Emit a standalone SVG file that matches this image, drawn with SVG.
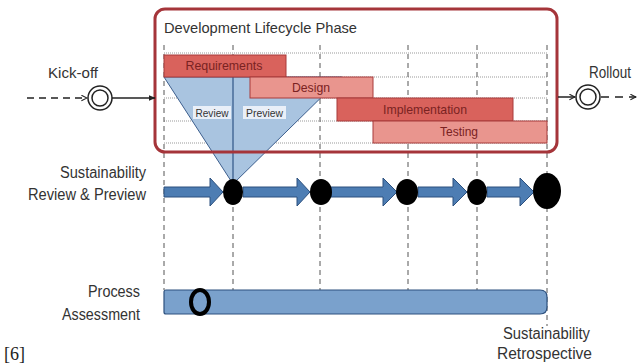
<svg xmlns="http://www.w3.org/2000/svg" width="639" height="364" viewBox="0 0 639 364">
<style>
.t{font-family:"Liberation Sans",Arial,sans-serif;fill:#333}
.bt{font-family:"Liberation Sans",Arial,sans-serif;fill:#7a2222;font-size:13px;text-anchor:middle}
.vd{stroke:#555;stroke-width:1;stroke-dasharray:5,4;fill:none}
.hd{stroke:#999;stroke-width:1;stroke-dasharray:1,1;fill:none}
.dark{fill:#d9625c;stroke:#a83a3a;stroke-width:1}
.light{fill:#e9958e;stroke:#a83a3a;stroke-width:1}
.arr{fill:#4d7db3;stroke:#2c507e;stroke-width:1}
.dot{fill:#000}
</style>
<defs>
<marker id="chev" viewBox="0 0 10 10" refX="9" refY="5" markerWidth="7" markerHeight="7" orient="auto" markerUnits="userSpaceOnUse">
<path d="M1,1 L9,5 L1,9" fill="none" stroke="#222" stroke-width="1.5"/>
</marker>
<marker id="tri" viewBox="0 0 10 10" refX="9" refY="5" markerWidth="7" markerHeight="7" orient="auto" markerUnits="userSpaceOnUse">
<path d="M0,1 L10,5 L0,9 z" fill="#222"/>
</marker>
</defs>
<rect width="639" height="364" fill="#fff"/>

<g id="phase-box">
<rect x="155" y="9" width="402" height="143" rx="10" fill="#fff"/>
<g id="grid-h">
<line class="hd" x1="164" y1="53" x2="547" y2="53"/>
<line class="hd" x1="164" y1="77" x2="547" y2="77"/>
<line class="hd" x1="164" y1="98" x2="547" y2="98"/>
<line class="hd" x1="164" y1="121" x2="547" y2="121"/>
<line class="hd" x1="164" y1="143" x2="547" y2="143"/>
</g>
</g>

<g id="grid-v">
<line class="vd" x1="164" y1="45" x2="164" y2="290"/>
<line class="vd" x1="233" y1="45" x2="233" y2="290"/>
<line class="vd" x1="320" y1="45" x2="320" y2="290"/>
<line class="vd" x1="408" y1="45" x2="408" y2="290"/>
<line class="vd" x1="477" y1="45" x2="477" y2="290"/>
<line class="vd" x1="547" y1="45" x2="547" y2="326"/>
</g>

<g id="review-funnel">
<polygon points="164,77 342,77 233,184" fill="#a9c4e0" stroke="#3d5f8e" stroke-width="1"/>
<line x1="233" y1="77" x2="233" y2="184" stroke="#2f5585" stroke-width="1.2"/>
<rect x="193" y="106" width="38" height="13" fill="#f4f7fb" opacity="0.85"/>
<rect x="243" y="106" width="43" height="13" fill="#f4f7fb" opacity="0.85"/>
<text class="t" x="212" y="117" font-size="11" text-anchor="middle" textLength="33" lengthAdjust="spacingAndGlyphs">Review</text>
<text class="t" x="264.5" y="117" font-size="11" text-anchor="middle" textLength="37" lengthAdjust="spacingAndGlyphs">Preview</text>
</g>

<g id="bar-requirements">
<rect class="dark" x="164" y="55" width="122" height="22"/>
<text class="bt" x="224" y="70" textLength="77" lengthAdjust="spacingAndGlyphs">Requirements</text>
</g>
<g id="bar-design">
<rect class="light" x="250" y="77" width="123" height="21"/>
<text class="bt" x="311" y="92" textLength="38" lengthAdjust="spacingAndGlyphs">Design</text>
</g>
<g id="bar-implementation">
<rect class="dark" x="337" y="98" width="176" height="23"/>
<text class="bt" x="425" y="114" textLength="84" lengthAdjust="spacingAndGlyphs">Implementation</text>
</g>
<g id="bar-testing">
<rect class="light" x="373" y="121" width="174" height="22"/>
<text class="bt" x="459" y="136" textLength="38" lengthAdjust="spacingAndGlyphs">Testing</text>
</g>

<rect x="155" y="9" width="402" height="143" rx="10" fill="none" stroke="#a5353a" stroke-width="3"/>
<text class="t" x="164" y="33" font-size="15" textLength="193" lengthAdjust="spacingAndGlyphs">Development Lifecycle Phase</text>

<g id="kickoff">
<text class="t" x="48" y="78" font-size="15" textLength="50" lengthAdjust="spacingAndGlyphs">Kick-off</text>
<circle cx="100" cy="98" r="12" fill="#fff" stroke="#222" stroke-width="1.5"/>
<circle cx="100" cy="98" r="8" fill="#fff" stroke="#222" stroke-width="1.5"/>
</g>
<g id="rollout">
<text class="t" x="589" y="78" font-size="16" textLength="42" lengthAdjust="spacingAndGlyphs">Rollout</text>
<circle cx="588" cy="97" r="12" fill="#fff" stroke="#222" stroke-width="1.5"/>
<circle cx="588" cy="97" r="8" fill="#fff" stroke="#222" stroke-width="1.5"/>
</g>

<g id="connectors">
<line x1="27" y1="98" x2="87" y2="98" stroke="#222" stroke-width="1.5" stroke-dasharray="7,5" marker-end="url(#chev)"/>
<line x1="112" y1="98" x2="155" y2="98" stroke="#222" stroke-width="1.5" marker-end="url(#tri)"/>
<line x1="558" y1="97" x2="575" y2="97" stroke="#222" stroke-width="1.5" marker-end="url(#chev)"/>
<line x1="601" y1="97" x2="636" y2="97" stroke="#222" stroke-width="1.5" stroke-dasharray="8,6" marker-end="url(#chev)"/>
</g>

<g id="sustainability-review">
<text class="t" x="60" y="178" font-size="16" textLength="86" lengthAdjust="spacingAndGlyphs">Sustainability</text>
<text class="t" x="28" y="200" font-size="16" textLength="118" lengthAdjust="spacingAndGlyphs">Review &amp; Preview</text>
<path class="arr" d="M164,187 H210 V178 L223,192 L210,206 V197 H164 Z"/>
<path class="arr" d="M243,187 H297 V178 L310,192 L297,206 V197 H243 Z"/>
<path class="arr" d="M331,187 H383 V178 L397,192 L383,206 V197 H331 Z"/>
<path class="arr" d="M418,187 H453 V178 L467,192 L453,206 V197 H418 Z"/>
<path class="arr" d="M487,187 H520 V178 L534,192 L520,206 V197 H487 Z"/>
<ellipse class="dot" cx="233" cy="192" rx="10" ry="13"/>
<ellipse class="dot" cx="321" cy="192" rx="11" ry="13"/>
<ellipse class="dot" cx="407" cy="192" rx="11" ry="13"/>
<ellipse class="dot" cx="477" cy="192" rx="10" ry="13"/>
<ellipse class="dot" cx="547" cy="191" rx="14" ry="18"/>
</g>

<g id="process-assessment">
<text class="t" x="88" y="297" font-size="16" textLength="52" lengthAdjust="spacingAndGlyphs">Process</text>
<text class="t" x="62" y="320" font-size="16" textLength="78" lengthAdjust="spacingAndGlyphs">Assessment</text>
<path d="M164,292 Q164,290 166,290 H540 Q547,290 547,297 V307 Q547,314 540,314 H166 Q164,314 164,312 Z" fill="#7aa1cc" stroke="#2c507e" stroke-width="1.2"/>
<ellipse cx="200" cy="302" rx="9" ry="12" fill="#7aa1cc" stroke="#000" stroke-width="4"/>
</g>

<g id="retrospective">
<text class="t" x="503" y="339" font-size="16" textLength="87" lengthAdjust="spacingAndGlyphs">Sustainability</text>
<text class="t" x="497" y="359" font-size="16" textLength="95" lengthAdjust="spacingAndGlyphs">Retrospective</text>
</g>

<text x="4" y="360" font-family="Liberation Serif,serif" font-size="18" fill="#222">[6]</text>
</svg>
